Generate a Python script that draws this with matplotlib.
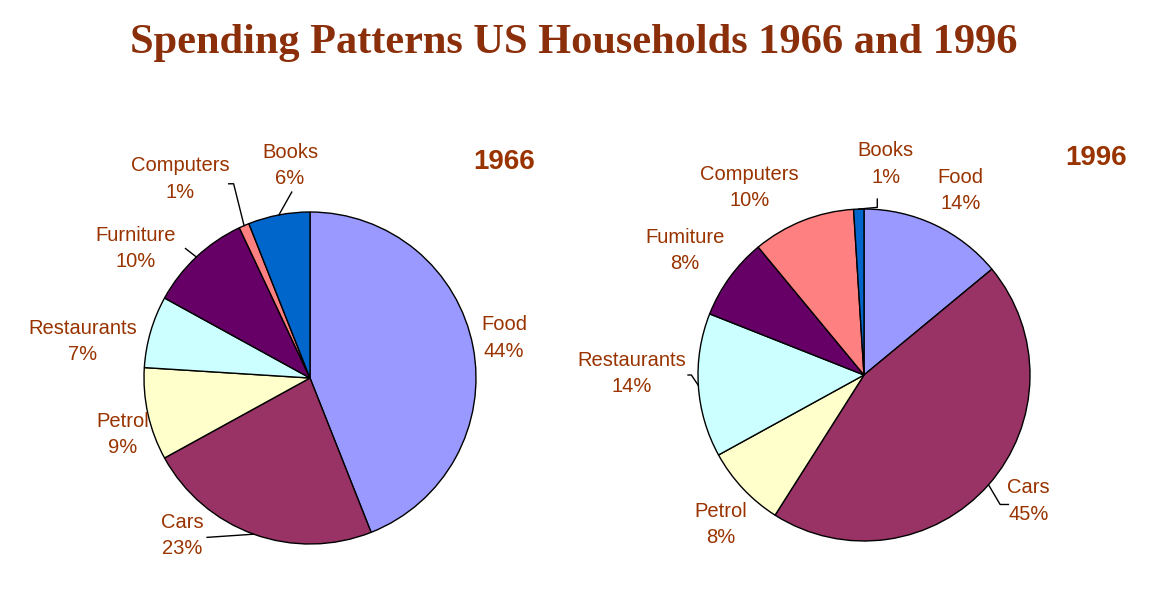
import numpy as np
import matplotlib
matplotlib.use("Agg")
import matplotlib.pyplot as plt

# ---- data ----
categories = ["Food", "Cars", "Petrol", "Restaurants", "Furniture", "Computers", "Books"]
shares_1966 = [44, 23, 9, 7, 10, 1, 6]
shares_1996 = [14, 45, 8, 14, 8, 10, 1]
labels_1996 = ["Food", "Cars", "Petrol", "Restaurants", "Fumiture", "Computers", "Books"]
years = ["1966", "1996"]
title = "Spending Patterns US Households 1966 and 1996"

# ---- styles / layout ----
colors = ["#9999FF", "#993366", "#FFFFCC", "#CCFFFF", "#660066", "#FF8080", "#0066CC"]
txt_color = "#993300"
W, H = 1170, 597
R = 166  # pie radius in px

# label centres in pie-radius units (relative to pie centre)
lab_pos_1966 = [(1.17, 0.24), (-0.77, -0.95), (-1.13, -0.34), (-1.37, 0.22),
                (-1.05, 0.78), (-0.78, 1.20), (-0.12, 1.28)]
lab_pos_1996 = [(0.58, 1.11), (0.99, -0.76), (-0.86, -0.90), (-1.40, 0.01),
                (-1.08, 0.75), (-0.69, 1.13), (0.13, 1.27)]
# leader line points (after the wedge edge point), None = no leader
lead_1966 = [None, [(-0.62, -0.96)], None, None, [(-0.75, 0.78)],
             [(-0.46, 1.17), (-0.49, 1.17)], [(-0.11, 1.12)]]
lead_1996 = [None, [(0.82, -0.78), (0.87, -0.78)], None, [(-1.04, 0.0), (-1.06, 0.0)],
             None, None, [(0.08, 1.01), (0.08, 1.06)]]

pies = [
    dict(center=(310, 378), vals=shares_1966, labels=categories, lpos=lab_pos_1966,
         lead=lead_1966, year=years[0], ypos=(1.17, 1.30)),
    dict(center=(864, 375), vals=shares_1996, labels=labels_1996, lpos=lab_pos_1996,
         lead=lead_1996, year=years[1], ypos=(1.40, 1.31)),
]

fig = plt.figure(figsize=(W / 100, H / 100), dpi=100)
fig.patch.set_facecolor("white")

fig.text(574 / W, 1 - 43 / H, title, ha="center", va="center",
         fontsize=30.5, fontweight="bold", family="Liberation Serif", color="#8B2E0A")

half_w, half_h = 1.75, 1.55
for p in pies:
    cx, cy = p["center"]
    ax = fig.add_axes([(cx - half_w * R) / W, (H - cy - half_h * R) / H,
                       2 * half_w * R / W, 2 * half_h * R / H])
    wedges, _ = ax.pie(p["vals"], colors=colors, startangle=90, counterclock=False,
                       radius=1.0, wedgeprops=dict(edgecolor="black", linewidth=1.0))
    ax.set_xlim(-half_w, half_w)
    ax.set_ylim(-half_h, half_h)
    ax.axis("off")
    for w, lab, v, (lx, ly), ld in zip(wedges, p["labels"], p["vals"], p["lpos"], p["lead"]):
        ax.text(lx, ly, f"{lab}\n{v}%", ha="center", va="center", fontsize=14.5,
                family="Liberation Sans", color=txt_color, linespacing=1.5)
        if ld is not None:
            ang = np.deg2rad((w.theta1 + w.theta2) / 2)
            xs = [np.cos(ang)] + [q[0] for q in ld]
            ys = [np.sin(ang)] + [q[1] for q in ld]
            ax.plot(xs, ys, color="black", lw=1.0)
    ax.text(p["ypos"][0], p["ypos"][1], p["year"], ha="center", va="center",
            fontsize=20, fontweight="bold", family="Liberation Sans", color=txt_color)

fig.savefig("out.png", dpi=100, facecolor="white")
